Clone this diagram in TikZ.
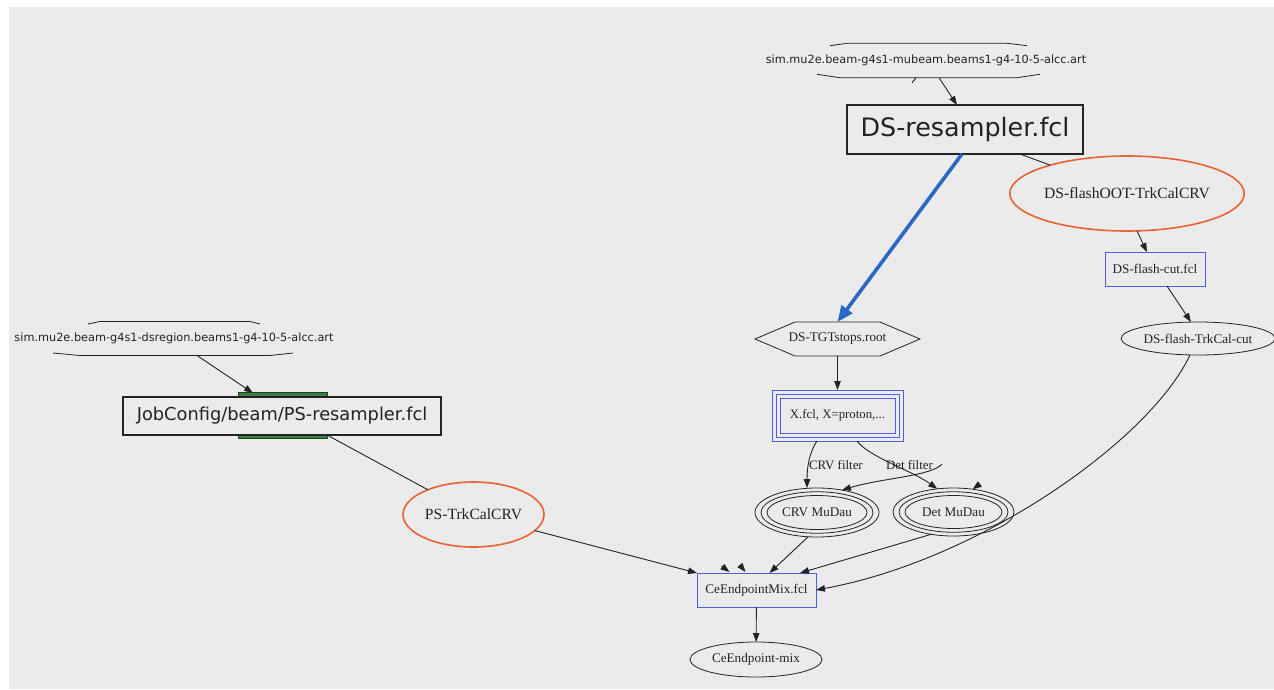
\documentclass[tikz,border=0pt]{standalone}
\usepackage{fontspec}
\setmainfont{Liberation Serif}
\newfontfamily\vfont{DejaVu Sans}
\usetikzlibrary{arrows.meta,shapes.geometric,calc}
\definecolor{bg}{RGB}{235,235,235}
\definecolor{nodeblue}{RGB}{80,95,225}
\definecolor{orng}{RGB}{232,98,50}
\definecolor{arrblue}{RGB}{40,105,200}
\definecolor{grn}{RGB}{58,128,62}
\definecolor{dgrn}{RGB}{30,70,30}
\definecolor{ink}{RGB}{35,35,35}
\begin{document}
\begin{tikzpicture}[x=1pt,y=-1pt,
  every node/.style={text=ink, inner sep=0pt, outer sep=0pt},
  small/.style={font=\fontsize{13.2}{15}\selectfont},
  big/.style={font=\fontsize{15.6}{18}\selectfont},
  simtxt/.style={font=\vfont\fontsize{11.3}{13}\selectfont},
  edge/.style={draw=ink, line width=0.9pt, -{Triangle[length=9pt,width=6.5pt]}},
  plain/.style={draw=ink, line width=0.9pt},
  hexline/.style={draw=ink, line width=0.8pt},
  bluebox/.style={draw=nodeblue, line width=1pt, rectangle},
  oval/.style={ellipse, draw=ink, line width=0.8pt},
  orangeoval/.style={ellipse, draw=orng, line width=1.6pt},
  blackbox/.style={draw=ink, line width=1.2pt, rectangle, fill=bg},
]
\useasboundingbox (0,0) rectangle (1274,689);
\fill[bg] (9,7) rectangle (1274,689);

% ---- top source file
\node[simtxt, minimum height=34.4pt] (simmu) at (926,60.5) {sim.mu2e.beam-g4s1-mubeam.beams1-g4-10-5-alcc.art};
\draw[hexline] (830,45.7) -- (847,43.3) -- (1007,43.3) -- (1027,45.7);
\draw[hexline] (817,74.3) -- (840,77.7) -- (1017,77.7) -- (1040,74.3);

% ---- left source file
\node[simtxt, minimum height=34pt] (simds) at (174,338.5) {sim.mu2e.beam-g4s1-dsregion.beams1-g4-10-5-alcc.art};
\draw[hexline] (88,324) -- (100,321.5) -- (250,321.5) -- (260,324);
\draw[hexline] (53,353) -- (80,355.5) -- (270,355.5) -- (293,353);

% ---- DS-resampler
\node[blackbox, minimum width=236pt, minimum height=49pt, font=\vfont\fontsize{25.4}{30}\selectfont] (dsres) at (965,129.5) {DS-resampler.fcl};

% ---- PS-resampler
\fill[grn, draw=dgrn, line width=0.8pt] (238,392) rectangle (327,438.5);
\node[blackbox, minimum width=318pt, minimum height=38pt, font=\vfont\fontsize{17.8}{21}\selectfont] (jobcfg) at (282,416) {JobConfig/beam/PS-resampler.fcl};

% ---- orange ellipses
\node[orangeoval, big, minimum width=141pt, minimum height=65pt] (pstrk) at (473.5,514.5) {PS-TrkCalCRV};
\node[orangeoval, big, minimum width=218pt, minimum height=75pt] (flashoot) at (1127,193.5) {DS-flashOOT-TrkCalCRV};

% ---- flash branch
\node[bluebox, small, minimum width=100pt, minimum height=34pt] (flashcut) at (1155,269) {DS-flash-cut.fcl};
\node[oval, small, minimum width=148pt, minimum height=33pt] (flashtrk) at (1198,338.5) {DS-flash-TrkCal-cut};

% ---- TGT stops hexagon
\node[small, minimum width=165pt, minimum height=34pt] (tgt) at (837.5,339) {DS-TGTstops.root};
\draw[hexline] (tgt.west) -- ([xshift=-42.5pt]tgt.north) -- ([xshift=42.5pt]tgt.north) -- (tgt.east)
  -- ([xshift=42.5pt]tgt.south) -- ([xshift=-42.5pt]tgt.south) -- cycle;

% ---- X.fcl triple box
\node[bluebox, font=\fontsize{12.8}{15}\selectfont, minimum width=131pt, minimum height=51pt] (xfcl) at (837.5,415.5) {X.fcl, X=proton,...};
\draw[draw=nodeblue, line width=1pt] ([shift={(4,4)}]xfcl.north west) rectangle ([shift={(-4,-4)}]xfcl.south east);
\draw[draw=nodeblue, line width=1pt] ([shift={(8,8)}]xfcl.north west) rectangle ([shift={(-8,-8)}]xfcl.south east);

% ---- MuDau triple ellipses
\node[oval, small, minimum width=124pt, minimum height=49pt] (crv) at (817,512.5) {CRV MuDau};
\draw[line width=0.8pt, ink] (crv.center) ellipse [x radius=56, y radius=20.75];
\draw[line width=0.8pt, ink] (crv.center) ellipse [x radius=50, y radius=17];
\node[oval, small, minimum width=121pt, minimum height=48pt] (det) at (953.5,512) {Det MuDau};
\draw[line width=0.8pt, ink] (det.center) ellipse [x radius=54.5, y radius=20.25];
\draw[line width=0.8pt, ink] (det.center) ellipse [x radius=48.5, y radius=16.5];

% ---- mix
\node[bluebox, small, minimum width=119pt, minimum height=34pt] (cemix) at (756.5,590) {CeEndpointMix.fcl};
\node[oval, small, minimum width=132pt, minimum height=35pt] (cemixo) at (756,659.5) {CeEndpoint-mix};

% ---- labels
\node[font=\fontsize{12.9}{15}\selectfont, anchor=west] (lcrv) at (809,465) {CRV filter};
\node[font=\fontsize{12.9}{15}\selectfont, anchor=west] (ldet) at (886,465) {Det filter};
\coordinate (loose) at (942,464);

% ---- connectors
\draw[edge] ([xshift=13pt]simmu.south) -- ([xshift=-8pt]dsres.north);
\draw[plain] ([xshift=-10pt]simmu.south) -- ++(-4,5);
\draw[plain] ([xshift=55pt]dsres.south) -- (flashoot);
\draw[draw=arrblue, line width=3.6pt, -{Triangle[length=16pt,width=13pt]}] ([xshift=-3pt]dsres.south) -- (tgt.north);
\draw[edge] ([xshift=10pt]flashoot.south) -- ([xshift=-8pt]flashcut.north);
\draw[edge] ([xshift=12pt]flashcut.south) -- ([xshift=-7pt]flashtrk.north);
\draw[edge] ([xshift=-8pt]flashtrk.south) .. controls +(-40,85) and +(164,-30) .. (cemix.east);
\draw[edge] ([xshift=23pt]simds.south) -- ([xshift=-29pt,yshift=4pt]jobcfg.north);
\draw[plain] ([xshift=45pt]jobcfg.south) -- (pstrk);
\draw[edge] (pstrk) -- (cemix.north west);
\draw[edge] (tgt.south) -- (xfcl.north);
\draw[edge] ([xshift=-20.5pt]xfcl.south) .. controls +(-8,12) and +(0,-20) .. ([xshift=-10pt]crv.north);
\draw[edge] ([xshift=19.5pt]xfcl.south) .. controls +(12,16) and +(-25,-18) .. (det.125);
\draw[edge] (loose) .. controls +(-10,12) and +(40,-12) .. (crv.42);
\draw[edge] ([shift={(7,-5)}]det.50) -- (det.50);
\draw[edge] (crv.250) -- ([xshift=13pt]cemix.north);
\draw[edge] (det.225) -- ([xshift=43.5pt]cemix.north);
\draw[edge] ([shift={(-35,-7)}]cemix.north) -- ([shift={(-27,-1)}]cemix.north);
\draw[edge] ([shift={(-15,-6)}]cemix.north) -- ([shift={(-11,-1)}]cemix.north);
\draw[edge] (cemix) -- (cemixo);
\end{tikzpicture}
\end{document}
